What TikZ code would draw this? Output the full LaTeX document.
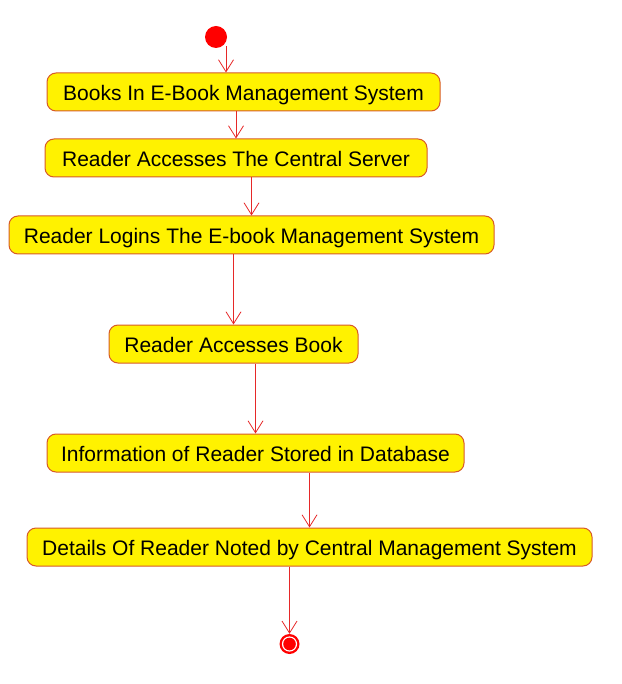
\documentclass[tikz,border=0pt]{standalone}
\usepackage{fontspec}
\setmainfont{Liberation Sans}
\usepackage{tikz}
\usetikzlibrary{arrows.meta}
\usetikzlibrary{calc}
\definecolor{boxline}{RGB}{215,90,40}
\definecolor{flowred}{RGB}{230,40,40}
\tikzstyle{activity} = [rectangle, rounded corners=9pt, minimum height=38pt, inner sep=0pt, text height=17pt, text depth=0pt, text centered, draw=boxline, fill=yellow, line width=1pt, font=\fontsize{21}{24}\selectfont]
\tikzstyle{initial} = [circle, fill=red, minimum size=22pt, inner sep=0pt]
\tikzstyle{final} = [circle, fill=red, minimum size=20pt, inner sep=0pt]
\tikzstyle{arrow} = [flowred, line width=0.8pt, -{Straight Barb[length=12pt,width=15pt]}]

\begin{document}
\begin{tikzpicture}[x=1pt,y=-1pt]
\useasboundingbox (0,0) rectangle (621,684);

\node (start) [initial] at (216,37) {};
\node (books) [activity, minimum width=393pt] at (243.5,92) {Books In E-Book Management System};
\node (central) [activity, minimum width=382pt] at (236,158) {Reader Accesses The Central Server};
\node (logins) [activity, minimum width=485pt] at (251.5,235) {Reader Logins The E-book Management System};
\node (access) [activity, minimum width=249pt] at (233.5,344) {Reader Accesses Book};
\node (stored) [activity, minimum width=417pt] at (255.5,453) {Information of Reader Stored in Database};
\node (noted) [activity, minimum width=565pt] at (309.5,547) {Details Of Reader Noted by Central Management System};
\node (end) [final] at (289.5,644) {};
\fill[white] (end) circle (7.6pt);
\fill[red] (end) circle (6.3pt);

\coordinate (out) at (226,46);
\draw [arrow] (out) -- (out |- books.north);
\draw [arrow] (books.south -| central.north) -- (central.north);
\draw [arrow] (central.south -| logins.north) -- (logins.north);
\draw [arrow] (logins.south -| access.north) -- (access.north);
\draw [arrow] (access.south -| stored.north) -- (stored.north);
\draw [arrow] (stored.south -| noted.north) -- (noted.north);
\draw [arrow] (noted.south -| end.north) -- (end.north);

\end{tikzpicture}
\end{document}
